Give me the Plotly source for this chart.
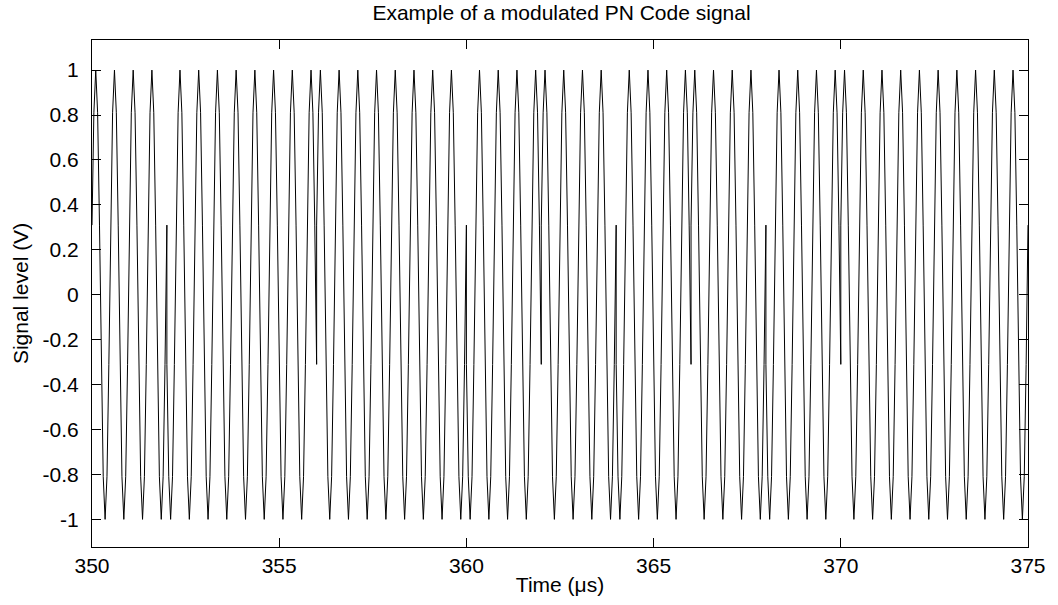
"""
Exemple de signal modulé par un code PN (porteuse échantillonnée, BPSK).
"""

import plotly.graph_objects as go

# ─────────────────────────────────────────────
# Données
# ─────────────────────────────────────────────

# Début de chaque chip (µs) et valeur du code PN (+1 / -1)
CHIP_START_US = [350, 352, 354, 356, 358, 360, 362, 364, 366, 368, 370, 372, 374]
PN_CODE       = [1, -1, -1, 1, 1, -1, 1, -1, 1, -1, 1, 1, 1]
CHIP_LEN_US   = [2, 2, 2, 2, 2, 2, 2, 2, 2, 2, 2, 2, 1]

# Une période de porteuse telle qu'échantillonnée (pas de 0.05 µs, départ à t = 350 µs)
CARRIER_SAMPLES = [0.31, 0.81, 1.0, 0.81, 0.31, -0.31, -0.81, -1.0, -0.81, -0.31]
SAMPLE_STEP_US  = 0.05

X_TICKS = [350, 355, 360, 365, 370, 375]
Y_TICKS = [-1, -0.8, -0.6, -0.4, -0.2, 0, 0.2, 0.4, 0.6, 0.8, 1]
Y_TICK_TEXT = ["-1", "-0.8", "-0.6", "-0.4", "-0.2", "0", "0.2", "0.4", "0.6", "0.8", "1"]


# ─────────────────────────────────────────────
# Construction du signal chip par chip
# ─────────────────────────────────────────────

t, y = [], []
n_per = len(CARRIER_SAMPLES)
for start, code, length in zip(CHIP_START_US, PN_CODE, CHIP_LEN_US):
    n = int(round(length / SAMPLE_STEP_US))
    # chaque chip garde ses deux extrémités : d'où les sauts verticaux aux changements de code
    for i in range(n + 1):
        t.append(start + i * SAMPLE_STEP_US)
        y.append(code * CARRIER_SAMPLES[i % n_per])


# ─────────────────────────────────────────────
# Figure
# ─────────────────────────────────────────────

FONT = "Liberation Sans, Arial, Helvetica, sans-serif"
FS = 21
W, H = 1058, 605

fig = go.Figure()
fig.add_trace(go.Scatter(
    x=t, y=y, mode="lines",
    line=dict(color="black", width=1),
    showlegend=False, hoverinfo="skip"
))

axis_style = dict(
    showline=True, linecolor="black", linewidth=1, mirror="ticks",
    ticks="inside", ticklen=9, tickcolor="black", tickwidth=1,
    showgrid=False, zeroline=False,
    tickfont=dict(family=FONT, size=FS, color="black"),
)

fig.update_xaxes(
    range=[350, 375], tickvals=X_TICKS,
    title=dict(text="Time (μs)", font=dict(family=FONT, size=FS, color="black"), standoff=1),
    **axis_style
)
fig.update_yaxes(
    range=[-1.123, 1.134], tickvals=Y_TICKS, ticktext=Y_TICK_TEXT,
    ticklabelstandoff=8,
    title=dict(text="Signal level (V)", font=dict(family=FONT, size=FS, color="black"), standoff=8),
    **axis_style
)

fig.update_layout(
    width=W, height=H,
    margin=dict(l=92, r=27, t=40, b=58),
    paper_bgcolor="white", plot_bgcolor="white",
    title=dict(
        text="Example of a modulated PN Code signal",
        x=(92 + W - 27) / 2 / W, xanchor="center",
        yref="container", y=1 - 13 / H, yanchor="middle",
        font=dict(family=FONT, size=FS, color="black"),
    ),
)

# pas de marge autour du graphique dans la page, pas de barre d'outils
fig.write_html(
    "out.html",
    config={"displayModeBar": False},
    post_script="document.body.style.margin='0';",
)
